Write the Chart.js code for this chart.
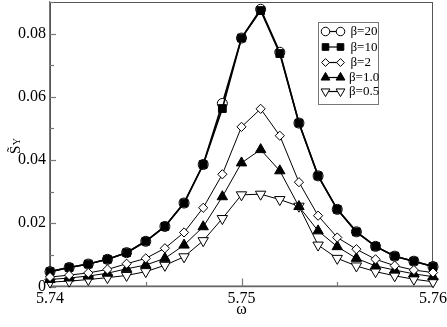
<!DOCTYPE html>
<html>
<head>
<meta charset="utf-8">
<script src="https://cdn.jsdelivr.net/npm/chart.js@4"></script>
<style>
html,body{margin:0;padding:0;background:#fff;}
#wrap{width:447px;height:327px;position:relative;}
</style>
</head>
<body>
<div id="wrap"><canvas id="c" width="447" height="327"></canvas></div>
<script>
const omega = [5.740,5.741,5.742,5.743,5.744,5.745,5.746,5.747,5.748,5.749,5.750,5.751,5.752,5.753,5.754,5.755,5.756,5.757,5.758,5.759,5.760];
const seriesLabels = ["β=20","β=10","β=2","β=1.0","β=0.5"];
const beta20 = [0.0047,0.0060,0.0071,0.0086,0.0107,0.0143,0.0190,0.0264,0.0386,0.0579,0.0786,0.0877,0.0741,0.0517,0.0350,0.0244,0.0173,0.0127,0.0096,0.0080,0.0063];
const beta10 = [0.0047,0.0060,0.0071,0.0086,0.0107,0.0143,0.0190,0.0264,0.0386,0.0563,0.0786,0.0873,0.0737,0.0517,0.0350,0.0244,0.0173,0.0127,0.0096,0.0080,0.0063];
const beta2  = [0.0030,0.0036,0.0043,0.0054,0.0072,0.0089,0.0121,0.0171,0.0249,0.0355,0.0505,0.0562,0.0477,0.0330,0.0224,0.0155,0.0118,0.0086,0.0066,0.0052,0.0044];
const beta1  = [0.0022,0.0027,0.0033,0.0042,0.0056,0.0068,0.0089,0.0131,0.0189,0.0284,0.0391,0.0433,0.0366,0.0253,0.0176,0.0126,0.0089,0.0065,0.0052,0.0040,0.0031];
const beta05 = [0.0014,0.0017,0.0022,0.0028,0.0035,0.0047,0.0067,0.0094,0.0145,0.0215,0.0290,0.0292,0.0275,0.0254,0.0131,0.0089,0.0065,0.0047,0.0034,0.0023,0.0015];
const xTickLabels = ["5.74","5.75","5.76"];
const yTickLabels = ["0","0.02","0.04","0.06","0.08"];

const SERIF = "'Liberation Serif', 'Times New Roman', serif";
function pts(ys){ return omega.map((x,i)=>({x:x,y:ys[i]})); }

const styles = [
  {pointStyle:'circle', bg:'#fff', r:5, rot:0, lw:1.6, order:2},
  {pointStyle:'rect', bg:'#000', r:5.5, rot:0, lw:1.6, order:1},
  {pointStyle:'rectRot', bg:'#fff', r:4.6, rot:0, lw:1, order:0},
  {pointStyle:'triangle', bg:'#000', r:6, rot:0, lw:1, order:0},
  {pointStyle:'triangle', bg:'#fff', r:6, rot:180, lw:1, order:0}
];
const allSeries = [beta20,beta10,beta2,beta1,beta05];

const datasets = allSeries.map((ys,i)=>({
  label: seriesLabels[i],
  data: pts(ys),
  borderColor:'#000',
  borderWidth: styles[i].lw,
  pointStyle: styles[i].pointStyle,
  pointRadius: styles[i].r,
  pointRotation: styles[i].rot,
  pointBackgroundColor: styles[i].bg,
  pointBorderColor:'#000',
  pointBorderWidth:1,
  tension:0,
  fill:false,
  clip:8,
  order: styles[i].order
}));

const decor = {
  id:'decor',
  beforeDatasetsDraw(chart){
    const ctx = chart.ctx, a = chart.chartArea;
    const xs = chart.scales.x, ys = chart.scales.y;
    ctx.save();
    ctx.strokeStyle = '#555';
    ctx.lineWidth = 1;
    ctx.strokeRect(a.left+0.5, a.top+0.5, a.right-a.left-1, a.bottom-a.top-1);
    ctx.strokeStyle = '#777';
    ctx.lineWidth = 1.2;
    for (let v = 5.740; v <= 5.7601; v += 0.005) {
      const px = Math.round(xs.getPixelForValue(v))+0.5;
      const major = Math.abs(v*100 - Math.round(v*100)) < 1e-6;
      const len = major ? 8 : 4.5;
      ctx.beginPath(); ctx.moveTo(px, a.bottom); ctx.lineTo(px, a.bottom-len); ctx.stroke();
    }
    for (let k = 0; k <= 9; k++) {
      const v = k*0.01;
      const py = Math.round(ys.getPixelForValue(v))+0.5;
      const major = k % 2 === 0;
      const len = major ? 6 : 4;
      ctx.beginPath(); ctx.moveTo(a.left, py); ctx.lineTo(a.left+len, py); ctx.stroke();
    }
    ctx.restore();
  },
  afterDraw(chart){
    const ctx = chart.ctx;
    ctx.save();
    ctx.fillStyle = '#000';
    ctx.translate(20, 154);
    ctx.rotate(-Math.PI/2);
    ctx.font = "15px " + SERIF;
    ctx.textBaseline = 'alphabetic';
    ctx.textAlign = 'left';
    ctx.fillText("S\u0303", 0, 0);
    const w = ctx.measureText("S").width;
    ctx.font = "10px " + SERIF;
    ctx.fillText("Y", w + 0.5, 0);
    ctx.restore();

    ctx.save();
    const bx = 318.5, by = 22.5, bw = 60, bh = 82;
    ctx.fillStyle = '#fff';
    ctx.fillRect(bx, by, bw, bh);
    ctx.strokeStyle = '#777';
    ctx.lineWidth = 1;
    ctx.strokeRect(bx, by, bw, bh);
    const rowY = [31.5, 47, 62.5, 77.5, 91.5];
    const x1 = 325.5, x2 = 340.5;
    chart.data.datasets.forEach((ds,i)=>{
      const y = rowY[i];
      ctx.strokeStyle = '#000';
      ctx.lineWidth = 1.2;
      ctx.beginPath(); ctx.moveTo(x1, y); ctx.lineTo(x2, y); ctx.stroke();
      ctx.lineWidth = 1;
      const opts = {pointStyle: ds.pointStyle, radius: ds.pointRadius*0.85, rotation: ds.pointRotation, borderWidth:1};
      ctx.fillStyle = ds.pointBackgroundColor;
      ctx.strokeStyle = '#000';
      Chart.helpers.drawPoint(ctx, opts, x1, y);
      ctx.fillStyle = ds.pointBackgroundColor;
      ctx.strokeStyle = '#000';
      Chart.helpers.drawPoint(ctx, opts, x2, y);
      ctx.fillStyle = '#000';
      ctx.font = "13px " + SERIF;
      ctx.textAlign = 'left';
      ctx.textBaseline = 'middle';
      ctx.fillText(ds.label, i===3||i===4 ? 349 : 350.5, y+0.5);
    });
    ctx.restore();
  }
};

new Chart(document.getElementById('c'), {
  type:'line',
  data:{datasets:datasets},
  options:{
    responsive:false,
    animation:false,
    devicePixelRatio:1,
    layout:{autoPadding:false, padding:{top:2,right:14,left:0,bottom:0}},
    plugins:{legend:{display:false}, tooltip:{enabled:false}},
    scales:{
      x:{
        type:'linear', min:5.74, max:5.76,
        afterFit(s){ s.height = 40.5; s.paddingLeft = 0; s.paddingRight = 0; s.paddingTop = 0; s.paddingBottom = 0; },
        grid:{display:false, drawTicks:false},
        border:{display:true, color:'#777', width:1.2},
        ticks:{
          stepSize:0.01, autoSkip:false, maxRotation:0, padding:3,
          color:'#000', font:{family:SERIF, size:16},
          callback(v){ const k = Math.round((v-5.74)*100); return xTickLabels[k] !== undefined && Math.abs((v-5.74)*100-k)<1e-6 ? xTickLabels[k] : ''; }
        },
        title:{display:true, text:'ω', color:'#000', font:{family:SERIF, size:16}, padding:{top:0,bottom:8}}
      },
      y:{
        type:'linear', min:0, max:0.09,
        afterFit(s){ s.width = 50; s.paddingTop = 0; s.paddingBottom = 0; s.paddingLeft = 0; s.paddingRight = 0; },
        grid:{display:false, drawTicks:false},
        border:{display:true, color:'#777', width:1.2},
        ticks:{
          stepSize:0.01, autoSkip:false, padding:4,
          color:'#000', font:{family:SERIF, size:16},
          callback(v){ const k = Math.round(v*100); return (k%2===0 && Math.abs(v*100-k)<1e-6) ? yTickLabels[k/2] : ''; }
        }
      }
    }
  },
  plugins:[decor]
});
</script>
</body>
</html>
